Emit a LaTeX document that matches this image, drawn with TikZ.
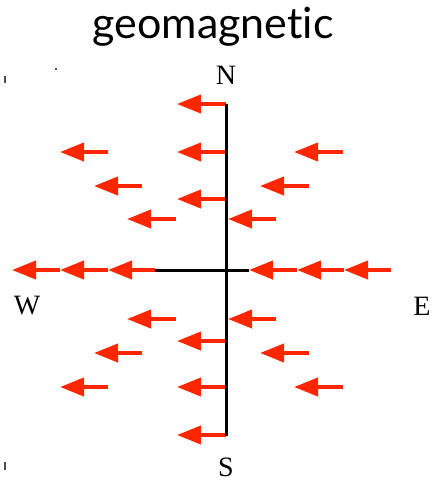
\documentclass[tikz,border=0pt]{standalone}
\usepackage{fontspec}
\setmainfont{Liberation Serif}
\newfontfamily\titlefont[Ligatures={NoCommon,NoRequired,NoContextual}]{Lato}
\usetikzlibrary{arrows.meta}
\definecolor{vecred}{RGB}{255,38,0}
\tikzset{
  vec/.style={draw=vecred, line width=4pt, -{Triangle[length=24pt,width=18pt]}, fill=vecred},
  axis/.style={draw=black, line width=3pt},
  dirlabel/.style={anchor=base, inner sep=0pt, font=\fontsize{28}{30}\selectfont},
  speck/.style={fill=black!70, draw=none}
}
\begin{document}
\begin{tikzpicture}[x=1pt,y=-1pt]
\useasboundingbox (0,0) rectangle (434,482);
% title
\node[anchor=base, inner sep=0pt, font=\titlefont\fontsize{43}{45}\selectfont] (title) at (213,38) {geomagnetic};
% labels
\node[dirlabel] (N) at (226,84) {N};
\node[dirlabel] (S) at (226,476) {S};
\node[dirlabel] (W) at (27,314) {W};
\node[dirlabel] (E) at (422,315) {E};
% axes
\coordinate (top) at (226,104);
\coordinate (bot) at (226,436);
\coordinate (hl) at (155,270);
\coordinate (hr) at (249,270);
% arrows on the vertical axis
\foreach \y [count=\i] in {104,152,199,341,387,435}{
  \coordinate (at\i) at (226,\y);
  \coordinate (ah\i) at (177,\y);
  \draw[vec] (at\i) -- (ah\i);
}
% off-axis arrows (tail x, tip x, y)
\foreach \t/\h/\y [count=\i] in {108/60/152, 343/294/152, 142/94/186, 309/260/186, 176/127/219, 276/228/219,
                               176/127/319, 276/228/319, 142/94/353, 309/260/353, 108/60/387, 343/294/387}{
  \coordinate (bt\i) at (\t,\y);
  \coordinate (bh\i) at (\h,\y);
  \draw[vec] (bt\i) -- (bh\i);
}
% horizontal chained arrows
\coordinate (w0) at (155,270);
\coordinate (w1) at (108,270);
\coordinate (w2) at (60,270);
\coordinate (w3) at (12,270);
\coordinate (e0) at (391,270);
\coordinate (e1) at (344,270);
\coordinate (e2) at (297,270);
\coordinate (e3) at (249,270);
\draw[vec] (w0) -- (w1);
\draw[vec] (w1) -- (w2);
\draw[vec] (w2) -- (w3);
\draw[vec] (e0) -- (e1);
\draw[vec] (e1) -- (e2);
\draw[vec] (e2) -- (e3);
\draw[axis] (top) -- (bot);
\draw[axis] (hl) -- (hr);
% specks
\fill[speck] (4,76) rectangle (5.5,83);
\fill[speck] (55,68) rectangle (57,70);
\fill[speck] (4,462) rectangle (5.5,470);
\end{tikzpicture}
\end{document}
